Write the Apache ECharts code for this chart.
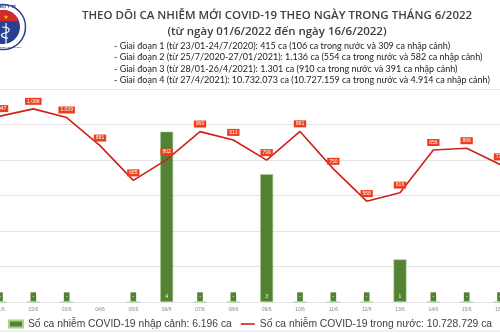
<!DOCTYPE html>
<html>
<head>
<meta charset="utf-8">
<script src="https://cdn.jsdelivr.net/npm/echarts@6/dist/echarts.min.js"></script>
<style>
html,body{margin:0;padding:0;background:#fff;}
#chart{width:500px;height:333px;}
</style>
</head>
<body>
<div id="chart"></div>
<script>
var categories = ['01/6','02/6','03/6','04/6','05/6','06/6','07/6','08/6','09/6','10/6','11/6','12/6','13/6','14/6','15/6','16/6'];
var domesticCases = [1047,1088,1039,881,685,802,960,913,799,961,750,568,616,856,866,775];
var importedCases = [0,0,0,null,0,4,0,0,3,0,0,0,1,0,0,0];
var titleLines = ['THEO DÕI CA NHIỄM MỚI COVID-19 THEO NGÀY TRONG THÁNG 6/2022','(từ ngày 01/6/2022 đến ngày 16/6/2022)'];
var phaseLines = [
  '- Giai đoạn 1 (từ 23/01-24/7/2020): 415 ca (106 ca trong nước và 309 ca nhập cảnh)',
  '- Giai đoạn 2 (từ 25/7/2020-27/01/2021): 1.136 ca (554 ca trong nước và 582 ca nhập cảnh)',
  '- Giai đoạn 3 (từ 28/01-26/4/2021): 1.301 ca (910 ca trong nước và 391 ca nhập cảnh)',
  '- Giai đoạn 4 (từ 27/4/2021): 10.732.073 ca (10.727.159 ca trong nước và 4.914 ca nhập cảnh)'
];
var legendImported = 'Số ca nhiễm COVID-19 nhập cảnh: 6.196 ca';
var legendDomestic = 'Số ca nhiễm COVID-19 trong nước: 10.728.729 ca';

function fmt(v){ return String(v).replace(/\B(?=(\d{3})+(?!\d))/g,'.'); }

var chart = echarts.init(document.getElementById('chart'), null, {renderer:'canvas'});

// logo: red top segment of the inner disc
var seg = [];
for (var a = 200; a <= 340; a += 10) {
  var r = a * Math.PI / 180;
  seg.push([3 + 17 * Math.cos(r), 27 + 17 * Math.sin(r)]);
}

var graphics = [
  {type:'circle', shape:{cx:3,cy:27,r:22.5}, style:{fill:'#fff',stroke:'#2b3f8e',lineWidth:1.5}},
  {type:'circle', shape:{cx:3,cy:27,r:17}, style:{fill:'#27408f'}},
  {type:'polygon', shape:{points:seg}, style:{fill:'#d42a2a'}},
  {type:'text', style:{x:6,y:17,text:'★',fill:'#f5d000',font:'6px DejaVu Sans',align:'center',verticalAlign:'middle'}},
  {type:'line', shape:{x1:6,y1:23,x2:6,y2:44}, style:{stroke:'#fff',lineWidth:1.2}},
  {type:'bezierCurve', shape:{x1:2,y1:27,cpx1:12,cpy1:27,cpx2:10,cpy2:32,x2:5,y2:33}, style:{stroke:'#fff',lineWidth:1.2,fill:null}},
  {type:'bezierCurve', shape:{x1:5,y1:33,cpx1:-1,cpy1:34,cpx2:1,cpy2:38,x2:8,y2:38}, style:{stroke:'#fff',lineWidth:1.2,fill:null}},
  {type:'text', style:{x:8,y:6.5,text:'BỘ Y TẾ',fill:'#2b3f8e',font:'bold 4px Liberation Sans',align:'center',verticalAlign:'middle'}},
  {type:'text', style:{x:8,y:47,text:'MINISTRY OF HEALTH',fill:'#2b3f8e',font:'bold 2.5px Liberation Sans',align:'center',verticalAlign:'middle'}},
  {type:'text', style:{x:277,y:16,text:titleLines[0],fill:'#3f3f3f',font:'600 11.5px "Open Sans"',align:'center',verticalAlign:'middle'}},
  {type:'text', style:{x:277,y:32,text:titleLines[1],fill:'#3f3f3f',font:'600 11.5px "Open Sans"',align:'center',verticalAlign:'middle'}},
  {type:'line', shape:{x1:0,y1:331,x2:500,y2:331}, style:{stroke:'#e2e2e2',lineWidth:1}}
];
for (var i=0;i<phaseLines.length;i++){
  graphics.push({type:'text', style:{x:114,y:46+i*11.3,text:phaseLines[i],fill:'#222',font:'9px Lato',align:'left',verticalAlign:'middle'}});
}

chart.setOption({
  animation:false,
  backgroundColor:'#fff',
  graphic: graphics,
  legend:{
    left:8, top:319, width:492, padding:0, itemWidth:14, itemHeight:7, itemGap:9,
    textStyle:{color:'#404040',fontSize:10.3,fontFamily:'Liberation Sans'},
    data:[
      {name:legendImported, icon:'rect'},
      {name:legendDomestic, icon:'path://M0,0 L14,0 L14,1.6 L0,1.6 Z', itemStyle:{color:'#d0201b'}}
    ]
  },
  grid:{left:0,right:0,top:89,bottom:31,containLabel:false,outerBoundsMode:'none'},
  xAxis:{
    type:'category', data:categories, boundaryGap:false,
    axisLine:{show:false}, axisTick:{show:false},
    axisLabel:{interval:0,fontSize:5,color:'#8a8a8a',margin:5,fontFamily:'Liberation Sans',hideOverlap:false}
  },
  yAxis:[
    {type:'value',min:0,max:1200,interval:200,axisLabel:{show:false},axisLine:{show:false},axisTick:{show:false},
     splitLine:{lineStyle:{color:'#e4e4e4',width:1}}},
    {type:'value',min:0,max:5,interval:1,show:false,splitLine:{show:false}}
  ],
  series:[
    {name:legendImported,type:'bar',yAxisIndex:1,data:importedCases,barWidth:13,
     itemStyle:{color:'#548235',borderColor:'#a9d18e',borderWidth:0.6},
     label:{show:true,position:'insideBottom',distance:1,fontSize:5,color:'#fff',backgroundColor:'#548235',
       padding:[2,2,2,2],fontFamily:'Liberation Sans',
       formatter:function(p){return p.value===0?'-':String(p.value);}},
     z:2},
    {name:legendDomestic,type:'line',yAxisIndex:0,data:domesticCases,symbol:'circle',symbolSize:0.1,showSymbol:true,
     lineStyle:{color:'#d0201b',width:1.6},itemStyle:{color:'#d0201b'},
     label:{show:true,position:'top',distance:4,fontSize:5,color:'#fff',backgroundColor:'#ee3d1a',
       padding:[1,2,1,2],fontFamily:'Liberation Sans',
       formatter:function(p){return fmt(p.value);}},
     labelLayout:{hideOverlap:false},
     z:3}
  ]
});
</script>
</body>
</html>
